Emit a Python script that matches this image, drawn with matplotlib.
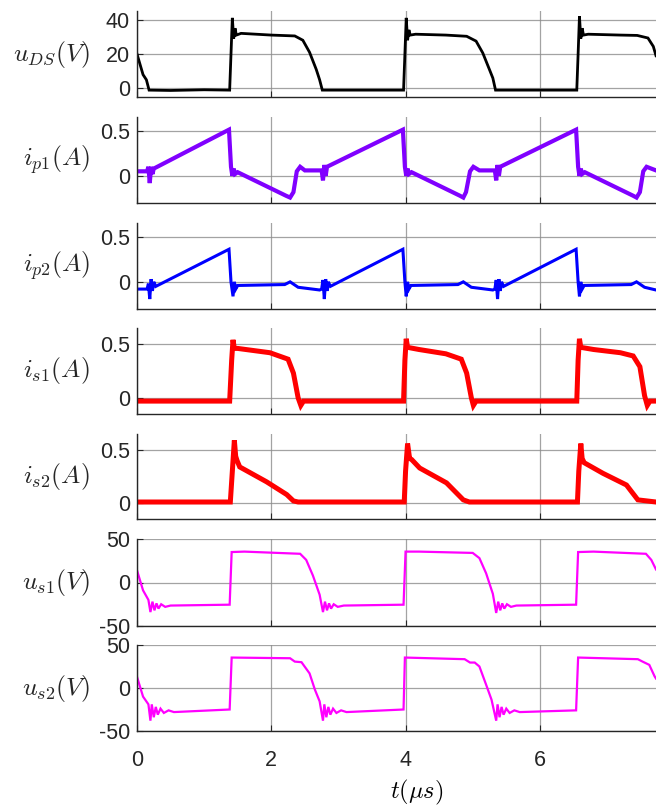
import matplotlib
matplotlib.use("Agg")
import matplotlib.pyplot as plt

plt.rcParams['mathtext.fontset'] = 'cm'
plt.rcParams['font.family'] = ['Liberation Sans', 'DejaVu Sans']

# ---------------- data ----------------
t_uds = [0, 0.09, 0.14, 0.18, 0.5, 1.0, 1.38, 1.40, 1.42, 1.44, 1.46, 1.48, 1.55, 2.0, 2.35,
         2.47, 2.57, 2.67, 2.72, 2.76, 3.2, 3.6, 3.97, 3.99, 4.01, 4.03, 4.05, 4.07, 4.15, 4.6,
         4.91, 5.05, 5.15, 5.25, 5.30, 5.34, 5.8, 6.2, 6.55, 6.57, 6.59, 6.61, 6.63, 6.65, 6.72,
         7.2, 7.45, 7.61, 7.69, 7.73]
v_uds = [20, 8, 5, -1, -1.2, -0.8, -1, 20, 41, 29, 35, 31, 32, 31, 30.5,
         28, 21, 11, 5, -1, -1, -1, -1, 20, 41, 28, 34, 31, 31.5, 31,
         30.3, 27.5, 20.6, 10.9, 6, -1, -1, -1, -1, 20, 42, 29, 35, 31, 31.5,
         31, 30.8, 29.3, 24.4, 19]

t_ip1 = [0, 0.15, 0.17, 0.19, 0.21, 0.23, 0.25, 1.37, 1.40, 1.42, 1.44, 1.46, 1.5, 2.22, 2.28,
         2.33, 2.38, 2.43, 2.5, 2.75, 2.77, 2.79, 2.81, 2.83, 3.96, 3.99, 4.01, 4.03, 4.05, 4.09,
         4.81, 4.86, 4.9, 4.96, 5.01, 5.1, 5.33, 5.35, 5.37, 5.39, 5.41, 6.54, 6.57, 6.59, 6.61,
         6.63, 6.67, 7.39, 7.44, 7.49, 7.54, 7.59, 7.73]
v_ip1 = [0.05, 0.05, 0.1, -0.08, 0.1, 0.02, 0.08, 0.51, 0.1, 0.0, 0.08, 0.02, 0.04, -0.22, -0.24,
         -0.18, 0.05, 0.1, 0.06, 0.06, -0.05, 0.12, 0.0, 0.1, 0.51, 0.1, 0.0, 0.08, 0.02, 0.04,
         -0.22, -0.24, -0.18, 0.05, 0.1, 0.06, 0.06, -0.05, 0.12, 0.0, 0.1, 0.51, 0.1, 0.0, 0.08,
         0.02, 0.04, -0.22, -0.24, -0.18, 0.05, 0.1, 0.06]

t_ip2 = [0, 0.15, 0.17, 0.19, 0.21, 0.23, 0.25, 0.28, 1.37, 1.40, 1.43, 1.45, 1.47, 1.5, 2.2,
         2.28, 2.4, 2.72, 2.75, 2.77, 2.79, 2.81, 2.83, 2.85, 2.88, 3.96, 3.99, 4.01, 4.03, 4.05,
         4.08, 4.78, 4.86, 4.98, 5.30, 5.33, 5.35, 5.37, 5.39, 5.41, 5.43, 5.46, 6.54, 6.57, 6.59,
         6.61, 6.63, 6.66, 7.36, 7.44, 7.56, 7.73]
v_ip2 = [-0.08, -0.08, -0.02, -0.19, 0.03, -0.1, 0.0, -0.05, 0.36, 0.0, -0.16, 0.0, -0.08, -0.04, -0.03,
         0.0, -0.06, -0.09, -0.08, 0.02, -0.19, 0.03, -0.1, 0.0, -0.05, 0.36, 0.0, -0.16, 0.0, -0.08,
         -0.04, -0.03, 0.0, -0.06, -0.09, -0.08, 0.02, -0.19, 0.03, -0.1, 0.0, -0.05, 0.36, 0.0, -0.16,
         0.0, -0.08, -0.04, -0.03, 0.0, -0.06, -0.09]

t_is1 = [0, 1.38, 1.41, 1.43, 1.45, 1.5, 1.98, 2.25, 2.33, 2.40, 2.44, 2.48, 3.97, 3.99, 4.01,
         4.03, 4.2, 4.6, 4.83, 4.91, 4.98, 5.01, 5.05, 6.55, 6.57, 6.59, 6.61, 6.8, 7.2, 7.39,
         7.49, 7.56, 7.6, 7.64, 7.73]
v_is1 = [-0.03, -0.03, 0.35, 0.54, 0.46, 0.46, 0.42, 0.36, 0.23, 0.0, -0.07, -0.03, -0.03, 0.35, 0.55,
         0.47, 0.45, 0.41, 0.36, 0.23, 0.0, -0.07, -0.03, -0.03, 0.35, 0.55, 0.47, 0.45, 0.42, 0.39,
         0.29, 0.02, -0.07, -0.03, -0.03]

t_is2 = [0, 1.39, 1.42, 1.45, 1.47, 1.49, 1.53, 1.93, 2.23, 2.33, 2.4, 3.98, 4.0, 4.03, 4.06,
         4.09, 4.21, 4.61, 4.86, 4.95, 6.56, 6.58, 6.61, 6.63, 6.66, 6.94, 7.29, 7.46, 7.73]
v_is2 = [0.01, 0.01, 0.3, 0.59, 0.44, 0.40, 0.34, 0.2, 0.08, 0.02, 0.01, 0.01, 0.3, 0.56, 0.42,
         0.41, 0.33, 0.19, 0.03, 0.01, 0.01, 0.3, 0.56, 0.42, 0.38, 0.28, 0.17, 0.03, 0.01]

t_us1 = [0, 0.09, 0.17, 0.20, 0.23, 0.26, 0.29, 0.32, 0.36, 0.42, 0.5, 1.38, 1.41, 1.6, 2.43,
         2.52, 2.62, 2.72, 2.77, 2.80, 2.83, 2.86, 2.89, 2.93, 2.99, 3.08, 3.97, 4.0, 4.2, 5.0,
         5.1, 5.2, 5.3, 5.35, 5.38, 5.41, 5.44, 5.47, 5.51, 5.57, 5.65, 6.54, 6.57, 6.8, 7.58,
         7.66, 7.73]
v_us1 = [14, -9, -20, -34, -22, -32, -24, -30, -25, -28, -26.5, -25.5, 35, 35.5, 33,
         26, 8, -14, -34, -22, -32, -24, -30, -25, -28, -26.5, -25.5, 35.5, 35.5, 34,
         28, 10.5, -13, -35, -22, -32, -24, -30, -25, -28, -26.5, -25.5, 35, 35.5, 33,
         26, 15]

t_us2 = [0, 0.09, 0.17, 0.20, 0.22, 0.25, 0.28, 0.31, 0.35, 0.40, 0.47, 0.55, 1.38, 1.41, 2.28,
         2.35, 2.45, 2.57, 2.65, 2.72, 2.77, 2.79, 2.82, 2.85, 2.88, 2.92, 2.97, 3.04, 3.12, 3.97,
         3.99, 4.88, 4.96, 5.03, 5.10, 5.20, 5.28, 5.35, 5.37, 5.40, 5.43, 5.46, 5.50, 5.55, 5.62,
         5.70, 6.54, 6.57, 7.46, 7.53, 7.63, 7.71, 7.73]
v_us2 = [13, -10, -19, -38, -19, -34, -22, -31, -24, -29, -26, -28, -25, 35.4, 34.6,
         30.7, 30, 17, -2, -15.5, -38, -19, -34, -22, -31, -24, -29, -26, -28, -25,
         35.4, 33.5, 29.6, 29.6, 25, 3.8, -13.5, -38, -19, -34, -22, -31, -24, -29, -26,
         -28, -26, 35.4, 33.5, 30.7, 26.9, 13.4, 11]

labels = [r'$u_{DS}(V)$', r'$i_{p1}(A)$', r'$i_{p2}(A)$', r'$i_{s1}(A)$',
          r'$i_{s2}(A)$', r'$u_{s1}(V)$', r'$u_{s2}(V)$']
series_t = [t_uds, t_ip1, t_ip2, t_is1, t_is2, t_us1, t_us2]
series_v = [v_uds, v_ip1, v_ip2, v_is1, v_is2, v_us1, v_us2]
yticks = [[0, 20, 40], [0, 0.5], [0, 0.5], [0, 0.5], [0, 0.5], [-50, 0, 50], [-50, 0, 50]]
ytick_labels = [['0', '20', '40'], ['0', '0.5'], ['0', '0.5'], ['0', '0.5'], ['0', '0.5'],
                ['-50', '0', '50'], ['-50', '0', '50']]
xticks = [0, 2, 4, 6]
xtick_labels = ['0', '2', '4', '6']

# ---------------- style ----------------
colors = ['#000000', '#8000ff', '#0000ff', '#ff0000', '#ff0000', '#ff00ff', '#ff00ff']
widths = [2.0, 3.0, 2.2, 3.6, 3.6, 1.6, 1.6]
ylims = [(-5, 45), (-0.3, 0.65), (-0.3, 0.65), (-0.15, 0.65), (-0.15, 0.65), (-50, 50), (-50, 50)]
panels_px = [(11, 97), (117, 203), (223, 309), (328, 414), (434, 519), (539, 626), (645, 731)]

W, H = 656, 806
fig = plt.figure(figsize=(W / 100, H / 100), dpi=100)
left = 137 / W
width = 1 - left
tick_col = '#262626'

for i in range(7):
    top, bot = panels_px[i]
    ax = fig.add_axes([left, 1 - bot / H, width, (bot - top) / H])
    ax.plot(series_t[i], series_v[i], color=colors[i], lw=widths[i], solid_joinstyle='miter')
    ax.set_xlim(0, 7.73)
    ax.set_ylim(*ylims[i])
    ax.set_yticks(yticks[i])
    ax.set_yticklabels(ytick_labels[i])
    ax.set_xticks(xticks)
    if i == 6:
        ax.set_xticklabels(xtick_labels)
        ax.set_xlabel(r'$t(\mu s)$', fontsize=17.5)
        ax.xaxis.set_label_coords(0.538, -0.55)
    else:
        ax.set_xticklabels([])
    for s in ['top', 'right']:
        ax.spines[s].set_visible(False)
    for s in ['left', 'bottom']:
        ax.spines[s].set_color(tick_col)
        ax.spines[s].set_linewidth(1.0)
    ax.tick_params(direction='in', length=4, width=0.8, colors=tick_col, labelsize=15.5)
    ax.tick_params(axis='y', pad=5)
    ax.tick_params(axis='x', pad=14)
    ax.grid(True, color='#8c8c8c', lw=0.9, alpha=0.8)
    ax.set_axisbelow(True)
    ax.set_ylabel(labels[i], rotation=0, fontsize=18.5, ha='right', va='center', color='#262626')
    ax.yaxis.set_label_coords(-0.091, 0.5)

fig.savefig('out.png', dpi=100)
